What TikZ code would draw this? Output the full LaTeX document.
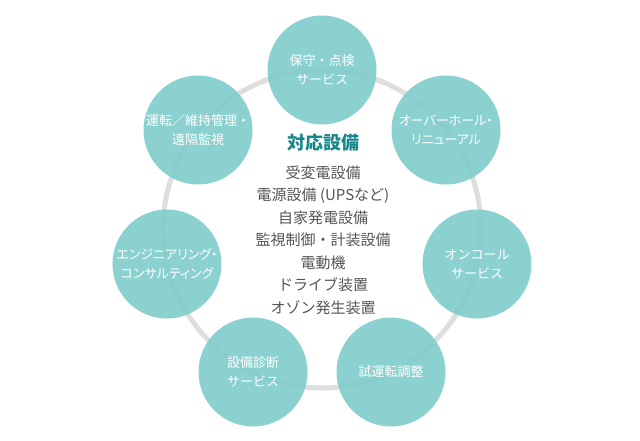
\documentclass[tikz,border=0pt]{standalone}
\usepackage{fontspec}
\setmainfont{Noto Sans CJK JP}
\newfontfamily\jpp{Noto Sans CJK JP}[RawFeature=+palt]
\definecolor{bubteal}{HTML}{7ECDCB}
\definecolor{ringgray}{HTML}{DEDEDE}
\definecolor{titleteal}{HTML}{17878A}
\definecolor{listgray}{HTML}{555555}
\tikzset{
  bub/.style={circle, minimum size=109pt, inner sep=0pt, fill=bubteal, fill opacity=0.9, text opacity=1,
    text=white, align=center, font=\fontsize{13}{19}\selectfont},
  bubp/.style={bub, font=\jpp\fontsize{13}{19}\selectfont},
  ringline/.style={draw=ringgray, line width=5pt},
  titletext/.style={text=titleteal, font=\fontsize{18}{22}\bfseries\selectfont},
  listtext/.style={text=listgray, font=\fontsize{15}{22.5}\selectfont, align=center}
}
\begin{document}
\begin{tikzpicture}[x=1pt, y=-1pt]
\useasboundingbox (0,0) rectangle (640,440);
\fill[white] (0,0) rectangle (640,440);
\draw[ringline] (322,229) circle (159pt);
\node[bub] (c1) at (322,70) {保守・点検\\サービス};
\node[bubp] (c2) at (446,130) {オーバーホール・\\リニューアル};
\node[bub] (c3) at (477,264) {オンコール\\サービス};
\node[bub] (c4) at (391,372) {試運転調整};
\node[bub] (c5) at (253,372) {設備診断\\サービス};
\node[bubp] (c6) at (167,264) {エンジニアリング・\\コンサルティング};
\node[bub] (c7) at (198,130) {運転／維持管理・\\遠隔監視};
\node[titletext] (title) at (323,143) {対応設備};
\node[listtext, anchor=north] (list) at (323,162) {受変電設備\\電源設備 (UPSなど)\\自家発電設備\\監視制御・計装設備\\電動機\\ドライブ装置\\オゾン発生装置};
\end{tikzpicture}
\end{document}
